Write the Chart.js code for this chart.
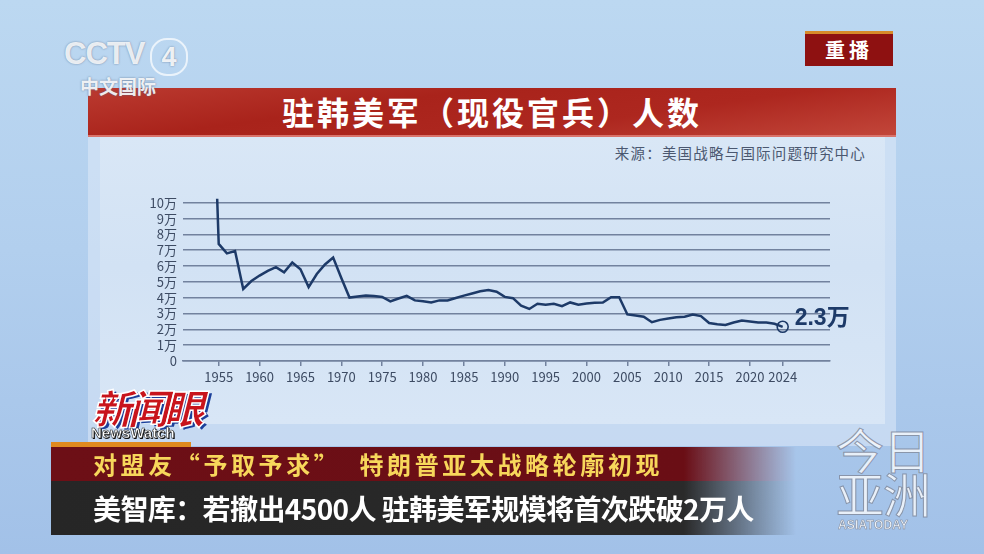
<!DOCTYPE html>
<html>
<head>
<meta charset="utf-8">
<script src="https://cdn.jsdelivr.net/npm/chart.js@4"></script>
<style>
  html, body { margin: 0; padding: 0; }
  body {
    width: 984px; height: 554px; overflow: hidden; position: relative;
    font-family: "Noto Sans CJK SC", sans-serif;
    background: linear-gradient(180deg, #bcd8f1 0%, #b2cfee 45%, #a2c1e8 100%);
  }
  .abs { position: absolute; }
  #panel { left: 88px; top: 88px; width: 808px; height: 358px; background: rgba(222, 234, 248, 0.55); }
  #inner { left: 100px; top: 136px; width: 785px; height: 288px;
    background: linear-gradient(180deg, #d9e7f6 0%, #d2e2f4 45%, #d8e6f6 100%); }
  #title { left: 88px; top: 88px; width: 808px; height: 47px;
    background: linear-gradient(172deg, #bb3a30 0%, #a9231b 35%, #ad271f 65%, #c2463a 100%);
    border-bottom: 2px solid #d9736b;
    color: #fff; font-weight: bold; font-size: 32px; line-height: 47px; text-align: center; letter-spacing: 3px; }
  #source { right: 118px; top: 142px; font-size: 14.5px; color: #4b5870; letter-spacing: 1.2px; }
  #chartBox { left: 133px; top: 185px; width: 717px; height: 210px; }
  #replay { left: 805px; top: 31px; width: 88px; height: 35px; background: #8e1111;
    border-top: 3px solid #d78a2a; box-sizing: border-box;
    color: #fff; font-weight: bold; font-size: 20px; line-height: 31px; text-align: center; letter-spacing: 4px; }
  #cctv { left: 64px; top: 36px; color: rgba(255,255,255,0.85); font-family: "Liberation Sans", sans-serif;
    font-weight: bold; font-size: 31px; letter-spacing: -1px; text-shadow: 0 0 2px rgba(90,110,140,0.8); }
  #cctv4 { left: 150px; top: 38px; width: 34px; height: 34px; border-radius: 17px; border: 2px solid rgba(255,255,255,0.7);
    color: rgba(255,255,255,0.9); font-family: "Liberation Sans", sans-serif; font-weight: bold; font-size: 27px;
    line-height: 34px; text-align: center; text-shadow: 0 0 2px rgba(90,110,140,0.8); }
  #cctvcn { left: 80px; top: 72px; color: rgba(255,255,255,0.9); font-weight: bold; font-size: 19px;
    text-shadow: 0 0 2px rgba(90,110,140,0.9); }
  #newsEye { left: 92px; top: 378px; font-size: 40px; font-weight: 900; font-style: italic; color: #c8141c;
    letter-spacing: -4px; -webkit-text-stroke: 1.5px #fff; text-shadow: 3px 2px 0 #1b3f9a; }
  #newsWatch { left: 91px; top: 424px; font-family: "Liberation Sans", sans-serif; font-weight: bold; font-size: 15px;
    color: #fff; -webkit-text-stroke: 0.5px #222; text-shadow: 1px 1px 0 #111; }
  #orange { left: 51px; top: 442px; width: 140px; height: 5px; background: #e08a1e; }
  #redBar { left: 51px; top: 447px; width: 745px; height: 34px;
    background: linear-gradient(90deg, #6d0f16 0%, #6a0e15 85%, rgba(106,14,21,0) 100%);
    color: #f7d75b; font-weight: bold; font-size: 24px; line-height: 34px; padding-left: 42px; box-sizing: border-box;
    letter-spacing: 3.6px; white-space: pre; }
  #darkBar { left: 51px; top: 481px; width: 745px; height: 54px;
    background: linear-gradient(90deg, #262626 0%, #2a2a2a 85%, rgba(42,42,42,0) 100%);
    color: #fff; font-weight: bold; font-size: 28px; line-height: 54px; padding-left: 42px; box-sizing: border-box;
    letter-spacing: -0.6px; white-space: pre; }
  #asia1, #asia2 { left: 836px; color: rgba(245,248,252,0.85); font-size: 48px; line-height: 48px; letter-spacing: -1px;
    -webkit-text-stroke: 1px rgba(120,130,150,0.8); }
  #asia1 { top: 424px; }
  #asia2 { top: 468px; }
  #asiaEn { left: 838px; top: 518px; font-family: "Liberation Sans", sans-serif; font-size: 12px; font-weight: bold;
    color: #eef2f7; -webkit-text-stroke: 0.5px #7d8596; letter-spacing: 0.2px; }
</style>
</head>
<body>
<div id="panel" class="abs"></div>
<div id="inner" class="abs"></div>
<div id="title" class="abs">驻韩美军（现役官兵）人数</div>
<div id="source" class="abs">来源：美国战略与国际问题研究中心</div>
<div id="chartBox" class="abs"><canvas id="chart"></canvas></div>
<div id="cctv" class="abs">CCTV</div>
<div id="cctv4" class="abs">4</div>
<div id="cctvcn" class="abs">中文国际</div>
<div id="replay" class="abs">重播</div>
<div id="newsEye" class="abs">新闻眼</div>
<div id="newsWatch" class="abs">NewsWatch</div>
<div id="orange" class="abs"></div>
<div id="redBar" class="abs">对盟友“予取予求”  特朗普亚太战略轮廓初现</div>
<div id="darkBar" class="abs">美智库：若撤出4500人 驻韩美军规模将首次跌破2万人</div>
<div id="asia1" class="abs">今日</div>
<div id="asia2" class="abs">亚洲</div>
<div id="asiaEn" class="abs">ASIATODAY</div>

<script>
// data (1954 runs off the top of the chart, estimated)
const years = [
  1954, 1955, 1956, 1957, 1958, 1959, 1960, 1961, 1962, 1963, 1964, 1965, 1966, 1967, 1968, 1969,
  1970, 1971, 1972, 1973, 1974, 1975, 1976, 1977, 1978, 1979, 1980, 1981, 1982, 1983, 1984, 1985,
  1986, 1987, 1988, 1989, 1990, 1991, 1992, 1993, 1994, 1995, 1996, 1997, 1998, 1999, 2000, 2001,
  2002, 2003, 2004, 2005, 2006, 2007, 2008, 2009, 2010, 2011, 2012, 2013, 2014, 2015, 2016, 2017,
  2018, 2019, 2020, 2021, 2022, 2023, 2024
];
const troops = [
  225000, 74000, 68000, 69500, 45500, 50500, 54000, 57000, 59300, 56000, 62200, 58000, 46700, 55000, 61000, 65400,
  52500, 40100, 40800, 41400, 41000, 40500, 37700, 39500, 41200, 38300, 37800, 37000, 38300, 38300, 39800, 41300,
  42700, 44100, 44900, 43800, 40500, 39700, 35000, 32900, 36200, 35500, 36200, 34600, 37000, 35500, 36300, 36800,
  37000, 40300, 40300, 29400, 28700, 28000, 24500, 26000, 26800, 27600, 28000, 29400, 28400, 24000, 23200, 22800,
  24300, 25600, 25000, 24300, 24300, 23500, 21600
];
const yTickValues = [0, 10000, 20000, 30000, 40000, 50000, 60000, 70000, 80000, 90000, 100000];
const xTickYears = [1955, 1960, 1965, 1970, 1975, 1980, 1985, 1990, 1995, 2000, 2005, 2010, 2015, 2020, 2024];
const endLabel = '2.3万';

const gridColor = '#72829e';
const tickColor = '#3d4b63';
const lineColor = '#1d3a68';
const tickFont = { family: '"Noto Sans CJK SC", "Noto Sans", sans-serif', size: 13 };

const endLabelPlugin = {
  id: 'endLabel',
  afterDatasetsDraw(chart) {
    const meta = chart.getDatasetMeta(0);
    const pt = meta.data[meta.data.length - 1];
    const ctx = chart.ctx;
    ctx.save();
    ctx.fillStyle = lineColor;
    ctx.font = 'bold 23px "Liberation Sans", "Noto Sans CJK SC", sans-serif';
    ctx.textBaseline = 'middle';
    ctx.fillText(endLabel, pt.x + 12, pt.y - 8);
    ctx.restore();
  }
};

new Chart(document.getElementById('chart'), {
  type: 'line',
  data: {
    datasets: [{
      data: years.map((y, i) => ({ x: y, y: troops[i] })),
      borderColor: lineColor,
      borderWidth: 2.5,
      tension: 0,
      pointRadius: ctx => ctx.dataIndex === years.length - 1 ? 5.5 : 0,
      pointBorderColor: lineColor,
      pointBackgroundColor: 'rgba(0,0,0,0)',
      pointBorderWidth: 1.6
    }]
  },
  options: {
    responsive: true,
    maintainAspectRatio: false,
    animation: false,
    devicePixelRatio: 1,
    layout: { padding: { left: 0, top: 10, right: 20, bottom: 0 } },
    plugins: { legend: { display: false }, tooltip: { enabled: false } },
    scales: {
      x: {
        type: 'linear',
        min: 1950.63,
        max: 2029.79,
        afterBuildTicks: s => { s.ticks = xTickYears.map(v => ({ value: v })); },
        afterFit: s => { s.height = 34; },
        ticks: { autoSkip: false, maxRotation: 0, padding: 3, color: tickColor, font: tickFont,
          callback: v => String(v) },
        grid: { drawOnChartArea: false, drawTicks: true, tickLength: 5, color: gridColor, lineWidth: 1.5 },
        border: { display: true, color: gridColor, width: 1.5 }
      },
      y: {
        min: 0,
        max: 102500,
        afterBuildTicks: s => { s.ticks = yTickValues.map(v => ({ value: v })); },
        afterFit: s => { s.width = 50; },
        ticks: { autoSkip: false, padding: 6, color: tickColor, font: tickFont,
          callback: v => v === 0 ? '0' : (v / 10000) + '万' },
        grid: { drawTicks: false, color: gridColor, lineWidth: 1.5 },
        border: { display: false }
      }
    }
  },
  plugins: [endLabelPlugin]
});
</script>
</body>
</html>
